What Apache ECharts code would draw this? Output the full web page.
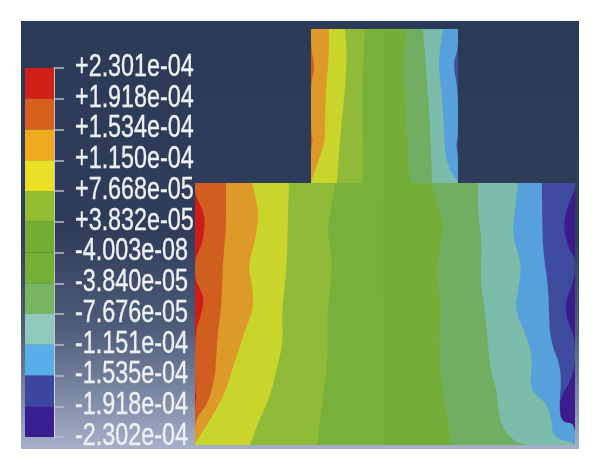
<!DOCTYPE html>
<html><head><meta charset="utf-8">
<style>html,body{margin:0;padding:0;background:#fff}#c{width:600px;height:471px;filter:blur(0.6px)}</style>
<script src="https://cdn.jsdelivr.net/npm/echarts@6/dist/echarts.min.js"></script>
</head><body><div id="c"></div>
<script>
// Contour legend, top to bottom
const legendLabels = ['+2.301e-04','+1.918e-04','+1.534e-04','+1.150e-04','+7.668e-05','+3.832e-05','-4.003e-08','-3.840e-05','-7.676e-05','-1.151e-04','-1.535e-04','-1.918e-04','-2.302e-04'];
const legendColors = ['#d22018','#d9601c','#f0aa1e','#ebe023','#92bc32','#72ae32','#74b032','#79b562','#90c9bc','#59ade8','#3b479f','#371f8f'];
const plotColors   = ['#cf1c1a','#cf5e1f','#de9a28','#c9d52b','#8fbb38','#77b03a','#72ae38','#72ae62','#7bbcaa','#56a1dc','#3f4b9f','#3d1d8e'];

// Model extents: [x, height]
const lowerSpan = {x0:0, x1:380, h0:0, h1:262};
const upperSpan = {x0:116, x1:263, h0:262, h1:416};

// Lower block iso-lines, each separates one band from the next, left to right
const lowerRedOrange = [[0,262],[0,252],[2,247],[8,234],[10,224],[8,204],[2,190],[0,184],[0,167],[3,160],[9,147],[7,135],[5,127],[0,112],[0,53],[2,48],[0,42],[0,0]];
const lowerOrangeAmber = [[31,262],[31,247],[31,217],[28,184],[27,157],[26,135],[23,115],[21,85],[20,68],[13,42],[5,32],[0,23],[0,0]];
const lowerAmberYellow = [[57,262],[60,250],[64,230],[60,204],[53,180],[58,154],[58,135],[50,115],[38,78],[30,52],[15,25],[0,2],[0,0]];
const lowerYellowLime = [[94,262],[93,234],[92,187],[90,160],[87,135],[88,102],[82,78],[75,48],[63,22],[55,0]];
const lowerLimeGreen = [[140,262],[135,232],[132,215],[138,182],[132,132],[133,88],[128,48],[122,0]];
const lowerGreenGreen = [[189,262],[188,180],[190,90],[189,0]];
const lowerGreenSage = [[237,262],[242,242],[248,225],[247,210],[240,168],[247,142],[243,102],[248,48],[257,0]];
const lowerSageTeal = [[283,262],[283,234],[287,200],[285,167],[290,135],[295,75],[302,55],[303,35],[308,15],[322,2],[335,0]];
const lowerTealBlue = [[323,262],[320,234],[317,210],[327,180],[323,154],[320,135],[332,108],[338,85],[334,55],[352,42],[357,22],[358,8],[378,2],[380,0]];
const lowerBlueDark = [[347,262],[347,234],[348,194],[353,160],[354,135],[355,105],[367,75],[364,35],[367,23],[380,22],[380,0]];
const lowerDarkPurple = [[380,262],[380,255],[377,250],[368,224],[372,200],[380,187],[380,175],[378,162],[370,142],[372,125],[380,108],[380,72],[365,47],[365,35],[367,23],[380,22],[380,0]];

// Upper block iso-lines
const upperOrangeAmber = [[116,416],[116,396],[120,380],[117,366],[116,360],[116,312],[118,305],[116,298],[116,262]];
const upperAmberYellow = [[134,416],[134,390],[131,356],[130,323],[130,303],[123,283],[116,263],[116,262]];
const upperYellowLime = [[150,416],[152,390],[150,356],[145,306],[142,262]];
const upperLimeGreen = [[170,416],[167,356],[168,306],[168,262]];
const upperGreenGreen = [[189,416],[189,262]];
const upperGreenSage = [[212,416],[208,390],[210,340],[213,290],[215,262]];
const upperSageTeal = [[228,416],[230,390],[235,323],[237,262]];
const upperTealBlue = [[248,416],[243,383],[248,340],[250,283],[263,263],[263,262]];
const upperBlueDark = [[263,416],[263,396],[258,380],[263,356],[263,308],[261,300],[263,290],[263,262]];

const lowerLines = [lowerRedOrange,lowerOrangeAmber,lowerAmberYellow,lowerYellowLime,lowerLimeGreen,lowerGreenGreen,lowerGreenSage,lowerSageTeal,lowerTealBlue,lowerBlueDark,lowerDarkPurple];
const upperLines = [upperOrangeAmber,upperAmberYellow,upperYellowLime,upperLimeGreen,upperGreenGreen,upperGreenSage,upperSageTeal,upperTealBlue,upperBlueDark];

// Round the drawn corners of an iso-line on screen; the ends stay where they are
function roundCorners(pts){
  let cur = pts;
  for (let k=0;k<2;k++){
    const out = [cur[0]];
    for (let i=0;i<cur.length-1;i++){
      const a=cur[i], b=cur[i+1];
      out.push([a[0]*.75+b[0]*.25, a[1]*.75+b[1]*.25],[a[0]*.25+b[0]*.75, a[1]*.25+b[1]*.75]);
    }
    out.push(cur[cur.length-1]);
    cur = out;
  }
  return cur;
}

function blockSeries(name, span, lines, firstBand){
  const bands = [[[span.x0,span.h1],[span.x0,span.h0]]].concat(lines);
  return {
    type:'custom', name, coordinateSystem:'cartesian2d', xAxisIndex:0, yAxisIndex:0, clip:false,
    data: bands.map((_,i)=>[i]),
    renderItem(params, api){
      const line = roundCorners(bands[params.dataIndex].map(p=>api.coord(p)));
      const pts = line.concat([api.coord([span.x1,span.h0]),api.coord([span.x1,span.h1])]);
      return {type:'polygon', shape:{points:pts}, style:{fill:plotColors[firstBand+params.dataIndex]}};
    }
  };
}

const chart = echarts.init(document.getElementById('c'), null, {renderer:'canvas'});
chart.setOption({
  animation:false,
  backgroundColor:'#fff',
  graphic:[{type:'rect', z:-1, shape:{x:21,y:21,width:558,height:428},
    style:{fill:new echarts.graphic.LinearGradient(0,0,0,1,[
      {offset:0,color:'#2b3a56'},{offset:.49,color:'#2f3d5a'},{offset:.72,color:'#4e5d7a'},{offset:.885,color:'#7f8ca8'},{offset:1,color:'#a7b0c9'}])}}],
  grid:[
    {left:195, top:29, width:380, height:416},
    {left:25, top:68, width:29, height:369}
  ],
  xAxis:[
    {type:'value', gridIndex:0, min:0, max:380, show:false},
    {type:'value', gridIndex:1, min:0, max:1, show:false}
  ],
  yAxis:[
    {type:'value', gridIndex:0, min:0, max:416, show:false},
    {type:'value', gridIndex:1, min:0, max:12, interval:1, inverse:true, position:'right',
     splitLine:{show:false},
     axisLine:{show:true, onZero:false, lineStyle:{color:'#e6e9ee', width:1.5}},
     axisTick:{show:true, length:10, lineStyle:{color:'#b9bfca', width:1.5}},
     axisLabel:{show:false}}
  ],
  series:[
    blockSeries('upper block', upperSpan, upperLines, 1),
    blockSeries('lower block', lowerSpan, lowerLines, 0),
    {type:'custom', name:'legend', xAxisIndex:1, yAxisIndex:1, clip:false,
     data:legendColors.map((_,i)=>[i]),
     renderItem(params, api){
       const i = params.dataIndex;
       const a = api.coord([0,i]), b = api.coord([1,i+1]);
       return {type:'rect', shape:{x:a[0],y:a[1],width:b[0]-a[0],height:b[1]-a[1]}, style:{fill:legendColors[i]}};
     }},
    {type:'custom', name:'legend labels', xAxisIndex:1, yAxisIndex:1, clip:false, z:5,
     data:legendLabels.map((_,i)=>[i]),
     renderItem(params, api){
       const i = params.dataIndex;
       const p = api.coord([1,i]);
       return {type:'text', x:p[0]+21, y:p[1]-1, scaleX:0.73, scaleY:1,
         style:{text:legendLabels[i], fill:'#eef0f4', stroke:'#eef0f4', lineWidth:0.4, fontFamily:'"Liberation Sans",Arial,sans-serif', fontSize:32, align:'left', verticalAlign:'middle'}};
     }}
  ]
});
</script></body></html>
